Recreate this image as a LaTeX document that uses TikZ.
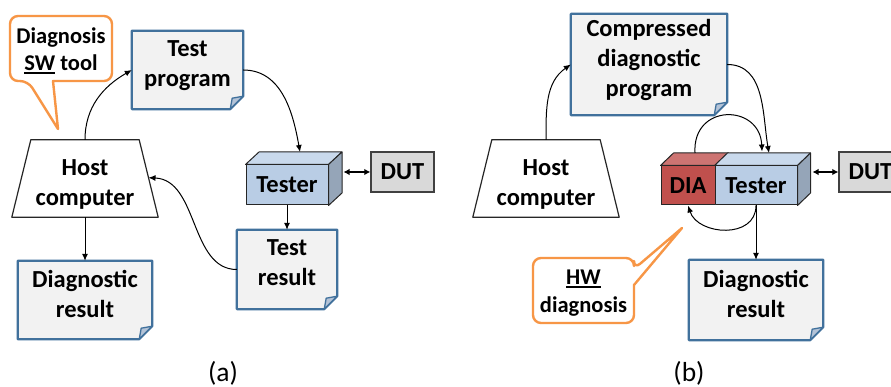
\documentclass[tikz,border=0pt]{standalone}
\usepackage{fontspec}
\setmainfont{Carlito}
\usetikzlibrary{arrows.meta,calc}

\definecolor{docfill}{HTML}{F2F2F2}
\definecolor{docedge}{HTML}{41719C}
\definecolor{foldfill}{HTML}{B4C3D7}
\definecolor{testerfront}{HTML}{B9CDE5}
\definecolor{testertop}{HTML}{C9D9EC}
\definecolor{testerside}{HTML}{95A5B8}
\definecolor{diafront}{HTML}{C0504D}
\definecolor{diatop}{HTML}{CD7472}
\definecolor{dutfill}{HTML}{D9D9D9}
\definecolor{calloutedge}{HTML}{F79646}

\pgfdeclarelayer{back}
\pgfsetlayers{back,main}

% extra depth under the last line of a document label
\newcommand\lastdepth{\rule[-13pt]{0pt}{13pt}}
% thick underline
\newcommand\ulword[1]{\setbox0\hbox{#1}\rlap{\rule[-3.2pt]{\wd0}{1.8pt}}\box0\relax}

% document shape with folded bottom-right corner, drawn behind node #1
\newcommand\docshape[1]{%
  \begin{pgfonlayer}{back}
    \filldraw[fill=docfill, draw=docedge, line width=2.2pt, line join=round]
      (#1.north west) -- (#1.north east) -- ([yshift=13pt]#1.south east)
      -- ([xshift=-13pt]#1.south east) -- (#1.south west) -- cycle;
    \filldraw[fill=foldfill, draw=docedge, line width=1.3pt, line join=round]
      ([xshift=-13pt]#1.south east) -- ([xshift=-11pt,yshift=11pt]#1.south east)
      -- ([yshift=13pt]#1.south east) -- cycle;
  \end{pgfonlayer}}

\tikzset{
  lbl/.style={font=\fontsize{24.5}{30}\selectfont\bfseries, align=center, inner sep=0pt},
  cubeface/.style={draw=black!85, line width=1pt, line join=round},
  dutbox/.style={lbl, draw=black!75, line width=1.3pt, fill=dutfill},
  hostline/.style={draw=black!85, line width=1.2pt, line join=round},
  arr/.style={line width=1pt, -{Latex[length=7pt,width=6pt]}},
  biarr/.style={line width=1.6pt, {Latex[length=6pt,width=6.5pt]}-{Latex[length=6pt,width=6.5pt]}},
  calloutline/.style={draw=calloutedge, line width=2.4pt, fill=white, line join=round},
  cnote/.style={font=\fontsize{22.5}{27.5}\selectfont\bfseries, align=center, inner sep=0pt},
  caption/.style={font=\fontsize{27.5}{30}\selectfont, inner sep=0pt, anchor=base}
}

\begin{document}
\begin{tikzpicture}[x=1pt, y=-1pt]
\useasboundingbox (0,0) rectangle (891,387);
\clip (0,0) rectangle (891,387);
\begin{pgfonlayer}{back}
  \fill[white] (0,0) rectangle (891,387);
\end{pgfonlayer}

% ---------------- (a) software diagnosis ----------------
\draw[calloutline] (70,81) [rounded corners=8pt] -- (112,81) -- (112,16) -- (10,16)
  -- (10,81) -- (28,81) [sharp corners] -- (58,129) -- (53,81) -- cycle;
\node[cnote] (swnote) at (61,48.5) {\rule{0pt}{20.5pt}Diagnosis\\\ulword{SW} tool};

\node[lbl, minimum width=111pt, minimum height=78pt] (tpA) at (187.5,70) {Test\\program\lastdepth};
\docshape{tpA}
\node[lbl, minimum width=134pt, minimum height=78pt] (drA) at (85,300) {Diagnostic\\result\lastdepth};
\docshape{drA}
\node[lbl, minimum width=100pt, minimum height=79pt] (trA) at (287,269.5) {Test\\result\lastdepth};
\docshape{trA}

\node[lbl, minimum width=146pt, minimum height=77pt] (hostA) at (85,178.5) {\rule{0pt}{27pt}Host\\computer};
\draw[hostline] ([xshift=19pt]hostA.north west) -- ([xshift=-19pt]hostA.north east)
  -- (hostA.south east) -- (hostA.south west) -- cycle;
\coordinate (hostAR) at ($([xshift=-19pt]hostA.north east)!0.49!(hostA.south east)$);

\node[lbl, cubeface, fill=testerfront, minimum width=82pt, minimum height=40pt] (testerA) at (287,185) {Tester};
\filldraw[cubeface, fill=testertop] (testerA.north west) -- ++(13.5,-12.5)
  -- ($(testerA.north east)+(13.5,-12.5)$) -- (testerA.north east) -- cycle;
\filldraw[cubeface, fill=testerside] (testerA.north east) -- ++(13.5,-12.5)
  -- ($(testerA.south east)+(13.5,-12.5)$) -- (testerA.south east) -- cycle;

\node[dutbox, minimum width=63pt, minimum height=40pt] (dutA) at (402.5,172) {DUT};

\draw[arr] (hostA.north) to[out=90, in=210] (tpA.west);
\draw[arr] (tpA.east) to[out=0, in=100] ($(testerA.north)+(13,-12.5)$);
\draw[biarr] ($(testerA.east)+(15,-13)$) -- (dutA.west);
\draw[arr] (testerA.south) -- (trA.north);
\draw[arr] (trA.west) .. controls +(-47,0) and +(50,2) .. (hostAR);
\draw[arr] (hostA.south) -- (drA.north);

\node[caption] (capA) at (223,381) {(a)};

% ---------------- (b) hardware diagnosis ----------------
\node[lbl, minimum width=156pt, minimum height=101pt] (cdpB) at (649,64.5) {Compressed\\diagnostic\\program\lastdepth};
\docshape{cdpB}
\node[lbl, minimum width=134pt, minimum height=80pt] (drB) at (756,300) {Diagnostic\\result\lastdepth};
\docshape{drB}

\node[lbl, minimum width=146pt, minimum height=77pt] (hostB) at (546,178.5) {\rule{0pt}{27pt}Host\\computer};
\draw[hostline] ([xshift=19pt]hostB.north west) -- ([xshift=-19pt]hostB.north east)
  -- (hostB.south east) -- (hostB.south west) -- cycle;

\node[lbl, cubeface, fill=diafront, minimum width=54pt, minimum height=39pt] (dia) at (688,185.5) {DIA};
\node[lbl, cubeface, fill=testerfront, minimum width=82pt, minimum height=39pt] (testerB) at (756,185.5) {Tester};
\filldraw[cubeface, fill=diatop] (dia.north west) -- ++(13,-12.5)
  -- ($(dia.north east)+(13,-12.5)$) -- (dia.north east) -- cycle;
\filldraw[cubeface, fill=testertop] (testerB.north west) -- ++(13,-12.5)
  -- ($(testerB.north east)+(13,-12.5)$) -- (testerB.north east) -- cycle;
\filldraw[cubeface, fill=testerside] (testerB.north east) -- ++(13,-12.5)
  -- ($(testerB.south east)+(13,-12.5)$) -- (testerB.south east) -- cycle;

\node[dutbox, minimum width=63pt, minimum height=40pt] (dutB) at (870.5,172) {DUT};

\draw[calloutline] (583,323) [rounded corners=8pt] -- (533,323) -- (533,258) -- (634,258)
  -- (634,269) [sharp corners] -- (682,228) -- (634,285) [rounded corners=8pt] -- (634,323) -- cycle;
\node[cnote] (hwnote) at (583.5,290.5) {\rule{0pt}{20pt}\ulword{HW}\\diagnosis};

\draw[arr] (hostB.north) to[out=90, in=215] (cdpB.west);
\draw[arr] (cdpB.east) to[out=0, in=100] ($(testerB.north)+(13,-12.5)$);
\draw[arr] ($(dia.north)+(7,-12.5)$) .. controls +(-3,-50) and +(-2,-48) .. ($(testerB.north)+(6,-14)$);
\draw[arr] (testerB.south) .. controls +(0,34) and +(10,30) .. (dia.south);
\draw[arr] (testerB.south) -- (drB.north);
\draw[biarr] ($(testerB.east)+(15,-13.5)$) -- (dutB.west);

\node[caption] (capB) at (689,381) {(b)};
\end{tikzpicture}
\end{document}
